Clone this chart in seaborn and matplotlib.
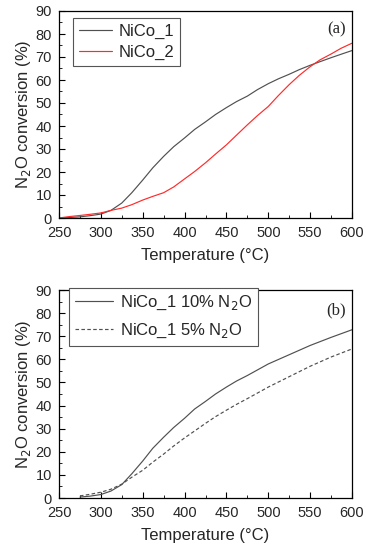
import numpy as np
import pandas as pd
import matplotlib
matplotlib.use("Agg")
import matplotlib.pyplot as plt
import seaborn as sns
from matplotlib.ticker import MultipleLocator

sns.set_style("ticks")
plt.rcParams['font.family'] = ['Liberation Sans', 'DejaVu Sans']

# panel (a)
temp_a = [250, 262, 275, 287, 300, 312, 325, 337, 350, 362, 375, 387, 400, 412, 425,
          437, 450, 462, 475, 487, 500, 512, 525, 537, 550, 562, 575, 587, 600]
nico1_a = [0, 0.2, 0.5, 1, 1.7, 3.3, 6.5, 11, 16.5, 21.8, 26.8, 31, 34.8, 38.5, 41.8,
           45, 48, 50.6, 53, 55.8, 58.4, 60.5, 62.5, 64.5, 66.4, 68, 69.7, 71.2, 72.8]
nico2_a = [0, 0.6, 1.1, 1.6, 2.2, 3.3, 4.3, 5.8, 7.8, 9.4, 11, 13.5, 17, 20.2, 24,
           27.8, 31.8, 36, 40.5, 44.5, 48.5, 53.2, 58, 62, 65.8, 68.8, 71.3, 73.8, 76]

# panel (b)
temp_b = [275, 287, 300, 312, 325, 337, 350, 362, 375, 387, 400, 412, 425, 437, 450,
          462, 475, 500, 525, 550, 575, 600]
n2o_10 = [0.4, 0.8, 1.5, 3, 5.8, 10.5, 16, 21.5, 26.3, 30.5, 34.5, 38.5, 41.8, 45, 48,
          50.6, 53, 58, 62, 66, 69.5, 72.8]
n2o_5 = [0.9, 1.6, 2.5, 3.8, 6, 9, 12, 15.5, 19, 22.5, 26, 29, 32.3, 35.2, 38,
         40.5, 43, 48, 52.5, 57, 61, 64.5]

df_a = pd.concat([
    pd.DataFrame({"T": temp_a, "X": nico1_a, "s": "NiCo_1"}),
    pd.DataFrame({"T": temp_a, "X": nico2_a, "s": "NiCo_2"}),
])
df_b = pd.concat([
    pd.DataFrame({"T": temp_b, "X": n2o_10, "s": "NiCo_1 10% N$_2$O"}),
    pd.DataFrame({"T": temp_b, "X": n2o_5, "s": "NiCo_1 5% N$_2$O"}),
])

fig = plt.figure(figsize=(3.66, 5.5), dpi=100)
ax1 = fig.add_axes([59/366, 1-218/550, 293/366, 207/550])
ax2 = fig.add_axes([59/366, 1-498/550, 293/366, 208/550])

sns.lineplot(data=df_a, x="T", y="X", hue="s", palette=["#505050", "#ff2a2a"],
             lw=0.85, ax=ax1, sort=False)
sns.lineplot(data=df_b, x="T", y="X", hue="s", style="s", palette=["#505050", "#505050"],
             dashes=[(None, None), (3, 2)], lw=0.85, ax=ax2, sort=False)

setup = [(ax1, "(a)", 0.913, (0.048, 0.965), 2.0, 0.35),
         (ax2, "(b)", 0.904, (0.034, 1.01), 2.3, 0.6)]
for ax, lab, ly, anchor, hl, ls in setup:
    ax.set_xlim(250, 600)
    ax.set_ylim(0, 90)
    ax.xaxis.set_major_locator(MultipleLocator(50))
    ax.xaxis.set_minor_locator(MultipleLocator(25))
    ax.yaxis.set_major_locator(MultipleLocator(10))
    ax.yaxis.set_minor_locator(MultipleLocator(5))
    ax.tick_params(which="both", direction="in", labelsize=10.5, color="black")
    ax.tick_params(axis="x", pad=5.5)
    ax.tick_params(axis="y", pad=5)
    ax.tick_params(which="major", length=4)
    ax.tick_params(which="minor", length=2)
    for sp in ax.spines.values():
        sp.set_color("black")
        sp.set_linewidth(0.9)
    ax.set_xlabel("Temperature (°C)", fontsize=12, labelpad=6)
    ax.set_ylabel("N$_2$O conversion (%)", fontsize=12, labelpad=2)
    ax.text(0.98, ly, lab, transform=ax.transAxes, ha="right", va="center",
            fontsize=12, family="Liberation Serif")
    leg = ax.legend(loc="upper left", bbox_to_anchor=anchor, borderaxespad=0,
                    fontsize=12, handlelength=hl, handletextpad=0.4, fancybox=False,
                    edgecolor="#555555", framealpha=1, borderpad=0.35, labelspacing=ls)
    leg.get_frame().set_linewidth(0.8)

fig.savefig("out.png", dpi=100)
